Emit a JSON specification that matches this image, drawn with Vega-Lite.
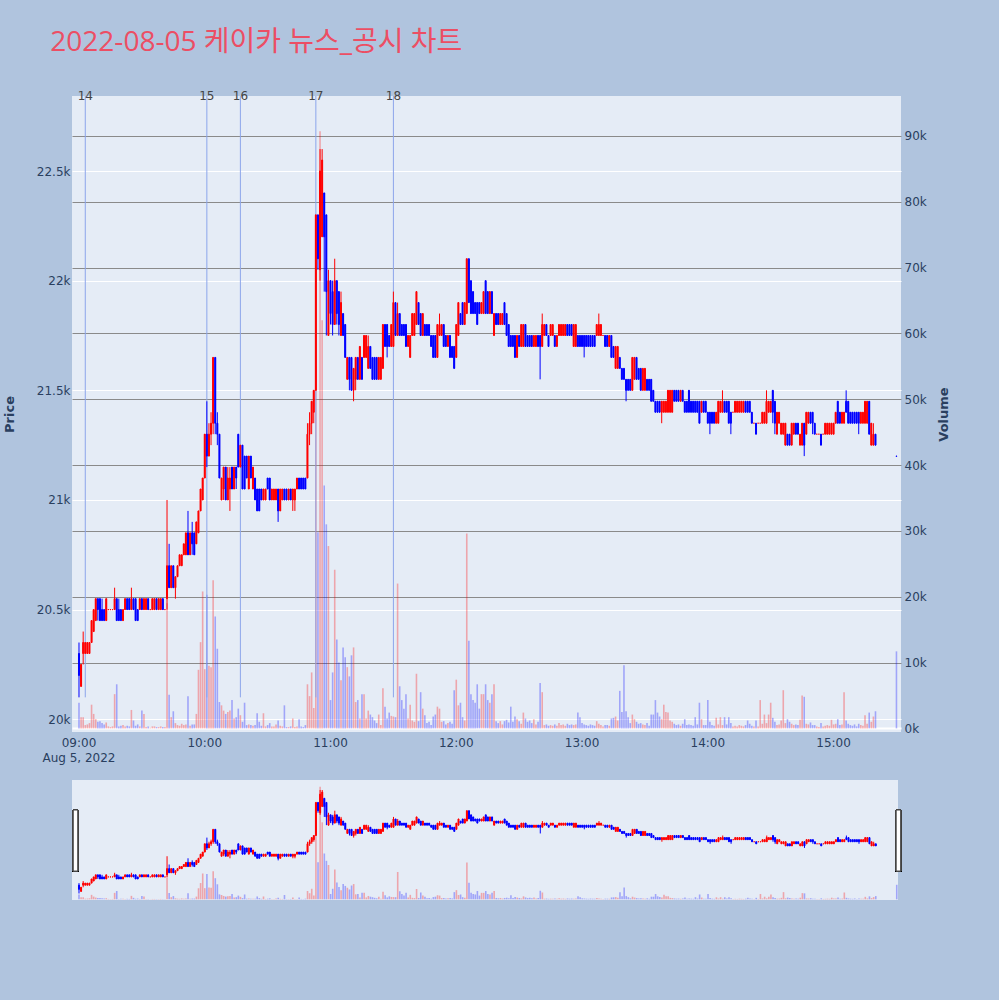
{
"$schema": "https://vega.github.io/schema/vega-lite/v6.json",
"background": "#B0C4DE",
"padding": {"left": 3, "top": 29, "right": 48, "bottom": 100},
"title": {"text": "2022-08-05 케이카 뉴스_공시 차트", "anchor": "start", "frame": "bounds", "font": "Open Sans, Noto Sans CJK KR", "fontSize": 28, "fontWeight": "normal", "color": "#EC4E64", "offset": 33, "dx": 47},
"config": {
"view": {"fill": "#E5ECF6", "stroke": null},
"axis": {"labelFont": "DejaVu Sans", "labelFontSize": 12, "labelColor": "#2a3f5f", "titleFont": "DejaVu Sans", "titleFontSize": 13, "titleFontWeight": "bold", "titleColor": "#2a3f5f", "domain": false, "ticks": false}
},
"spacing": 16,
"datasets": {
"news": [
{"n": "14", "t": "2022-08-05T09:03"},
{"n": "15", "t": "2022-08-05T10:01"},
{"n": "16", "t": "2022-08-05T10:17"},
{"n": "17", "t": "2022-08-05T10:53"},
{"n": "18", "t": "2022-08-05T11:30"}
],
"datelabel": [
{"t": "2022-08-05T09:00", "label": "Aug 5, 2022"}
],
"hours": [
{"t": "2022-08-05T09:00", "label": "09:00"},
{"t": "2022-08-05T10:00", "label": "10:00"},
{"t": "2022-08-05T11:00", "label": "11:00"},
{"t": "2022-08-05T12:00", "label": "12:00"},
{"t": "2022-08-05T13:00", "label": "13:00"},
{"t": "2022-08-05T14:00", "label": "14:00"},
{"t": "2022-08-05T15:00", "label": "15:00"}
],
"d": [
{"t":"2022-08-05T09:00","o":20300,"h":20350,"l":20100,"c":20200,"v":3900},
{"t":"2022-08-05T09:01","o":20150,"h":20250,"l":20150,"c":20250,"v":1700},
{"t":"2022-08-05T09:02","o":20300,"h":20400,"l":20250,"c":20350,"v":1700},
{"t":"2022-08-05T09:03","o":20300,"h":20350,"l":20300,"c":20350,"v":500},
{"t":"2022-08-05T09:04","o":20300,"h":20350,"l":20300,"c":20350,"v":600},
{"t":"2022-08-05T09:05","o":20300,"h":20350,"l":20300,"c":20350,"v":800},
{"t":"2022-08-05T09:06","o":20350,"h":20450,"l":20350,"c":20450,"v":3600},
{"t":"2022-08-05T09:07","o":20400,"h":20500,"l":20400,"c":20500,"v":2200},
{"t":"2022-08-05T09:08","o":20450,"h":20550,"l":20450,"c":20550,"v":1400},
{"t":"2022-08-05T09:09","o":20550,"h":20550,"l":20450,"c":20500,"v":1000},
{"t":"2022-08-05T09:10","o":20550,"h":20550,"l":20450,"c":20450,"v":1100},
{"t":"2022-08-05T09:11","o":20500,"h":20550,"l":20450,"c":20450,"v":800},
{"t":"2022-08-05T09:12","o":20500,"h":20500,"l":20450,"c":20450,"v":600},
{"t":"2022-08-05T09:13","o":20450,"h":20550,"l":20450,"c":20550,"v":900},
{"t":"2022-08-05T09:14","o":20500,"h":20500,"l":20500,"c":20500,"v":300},
{"t":"2022-08-05T09:15","o":20500,"h":20500,"l":20500,"c":20500,"v":200},
{"t":"2022-08-05T09:16","o":20500,"h":20500,"l":20500,"c":20500,"v":300},
{"t":"2022-08-05T09:17","o":20500,"h":20600,"l":20500,"c":20550,"v":5200},
{"t":"2022-08-05T09:18","o":20550,"h":20550,"l":20450,"c":20450,"v":6700},
{"t":"2022-08-05T09:19","o":20500,"h":20550,"l":20450,"c":20450,"v":300},
{"t":"2022-08-05T09:20","o":20500,"h":20500,"l":20450,"c":20450,"v":400},
{"t":"2022-08-05T09:21","o":20450,"h":20500,"l":20450,"c":20500,"v":500},
{"t":"2022-08-05T09:22","o":20500,"h":20550,"l":20500,"c":20550,"v":300},
{"t":"2022-08-05T09:23","o":20550,"h":20550,"l":20500,"c":20500,"v":400},
{"t":"2022-08-05T09:24","o":20550,"h":20550,"l":20500,"c":20500,"v":300},
{"t":"2022-08-05T09:25","o":20500,"h":20600,"l":20500,"c":20550,"v":2800},
{"t":"2022-08-05T09:26","o":20550,"h":20550,"l":20500,"c":20500,"v":1200},
{"t":"2022-08-05T09:27","o":20550,"h":20550,"l":20450,"c":20450,"v":400},
{"t":"2022-08-05T09:28","o":20500,"h":20500,"l":20450,"c":20450,"v":600},
{"t":"2022-08-05T09:29","o":20500,"h":20550,"l":20500,"c":20550,"v":300},
{"t":"2022-08-05T09:30","o":20550,"h":20550,"l":20500,"c":20500,"v":2700},
{"t":"2022-08-05T09:31","o":20500,"h":20550,"l":20500,"c":20550,"v":2200},
{"t":"2022-08-05T09:32","o":20500,"h":20550,"l":20500,"c":20550,"v":200},
{"t":"2022-08-05T09:33","o":20550,"h":20550,"l":20500,"c":20500,"v":300},
{"t":"2022-08-05T09:34","o":20500,"h":20500,"l":20500,"c":20500,"v":100},
{"t":"2022-08-05T09:35","o":20500,"h":20550,"l":20500,"c":20550,"v":300},
{"t":"2022-08-05T09:36","o":20500,"h":20550,"l":20500,"c":20550,"v":300},
{"t":"2022-08-05T09:37","o":20550,"h":20550,"l":20500,"c":20500,"v":200},
{"t":"2022-08-05T09:38","o":20500,"h":20550,"l":20500,"c":20550,"v":200},
{"t":"2022-08-05T09:39","o":20500,"h":20550,"l":20500,"c":20550,"v":300},
{"t":"2022-08-05T09:40","o":20550,"h":20550,"l":20500,"c":20500,"v":200},
{"t":"2022-08-05T09:41","o":20500,"h":20500,"l":20500,"c":20500,"v":200},
{"t":"2022-08-05T09:42","o":20550,"h":21000,"l":20500,"c":20700,"v":19000},
{"t":"2022-08-05T09:43","o":20700,"h":20800,"l":20600,"c":20600,"v":5100},
{"t":"2022-08-05T09:44","o":20600,"h":20700,"l":20600,"c":20700,"v":1700},
{"t":"2022-08-05T09:45","o":20700,"h":20700,"l":20600,"c":20600,"v":2600},
{"t":"2022-08-05T09:46","o":20600,"h":20650,"l":20550,"c":20650,"v":800},
{"t":"2022-08-05T09:47","o":20650,"h":20700,"l":20650,"c":20700,"v":500},
{"t":"2022-08-05T09:48","o":20700,"h":20750,"l":20700,"c":20750,"v":400},
{"t":"2022-08-05T09:49","o":20700,"h":20750,"l":20700,"c":20750,"v":700},
{"t":"2022-08-05T09:50","o":20750,"h":20800,"l":20750,"c":20800,"v":500},
{"t":"2022-08-05T09:51","o":20750,"h":20850,"l":20750,"c":20850,"v":600},
{"t":"2022-08-05T09:52","o":20850,"h":20950,"l":20750,"c":20750,"v":4900},
{"t":"2022-08-05T09:53","o":20750,"h":20850,"l":20750,"c":20850,"v":400},
{"t":"2022-08-05T09:54","o":20850,"h":20900,"l":20750,"c":20800,"v":600},
{"t":"2022-08-05T09:55","o":20850,"h":20850,"l":20750,"c":20750,"v":600},
{"t":"2022-08-05T09:56","o":20800,"h":20900,"l":20800,"c":20900,"v":2200},
{"t":"2022-08-05T09:57","o":20850,"h":20950,"l":20850,"c":20950,"v":8900},
{"t":"2022-08-05T09:58","o":20950,"h":21050,"l":20950,"c":21050,"v":13100},
{"t":"2022-08-05T09:59","o":21000,"h":21100,"l":21000,"c":21100,"v":20800},
{"t":"2022-08-05T10:00","o":21100,"h":21300,"l":21100,"c":21300,"v":9000},
{"t":"2022-08-05T10:01","o":21300,"h":21450,"l":21150,"c":21200,"v":20300},
{"t":"2022-08-05T10:02","o":21200,"h":21350,"l":21200,"c":21300,"v":9500},
{"t":"2022-08-05T10:03","o":21300,"h":21400,"l":21250,"c":21350,"v":9300},
{"t":"2022-08-05T10:04","o":21350,"h":21650,"l":21300,"c":21650,"v":22500},
{"t":"2022-08-05T10:05","o":21650,"h":21650,"l":21300,"c":21350,"v":17000},
{"t":"2022-08-05T10:06","o":21350,"h":21400,"l":21250,"c":21300,"v":12100},
{"t":"2022-08-05T10:07","o":21300,"h":21300,"l":21100,"c":21100,"v":4000},
{"t":"2022-08-05T10:08","o":21000,"h":21100,"l":21000,"c":21100,"v":3500},
{"t":"2022-08-05T10:09","o":21050,"h":21150,"l":21000,"c":21150,"v":2700},
{"t":"2022-08-05T10:10","o":21150,"h":21150,"l":21000,"c":21000,"v":2200},
{"t":"2022-08-05T10:11","o":21000,"h":21150,"l":21000,"c":21100,"v":2500},
{"t":"2022-08-05T10:12","o":21050,"h":21150,"l":20950,"c":21100,"v":2700},
{"t":"2022-08-05T10:13","o":21150,"h":21150,"l":21050,"c":21050,"v":4300},
{"t":"2022-08-05T10:14","o":21050,"h":21150,"l":21050,"c":21150,"v":1500},
{"t":"2022-08-05T10:15","o":21150,"h":21150,"l":21050,"c":21100,"v":1700},
{"t":"2022-08-05T10:16","o":21300,"h":21300,"l":21150,"c":21150,"v":3000},
{"t":"2022-08-05T10:17","o":21150,"h":21250,"l":21150,"c":21250,"v":2000},
{"t":"2022-08-05T10:18","o":21250,"h":21250,"l":21050,"c":21050,"v":1000},
{"t":"2022-08-05T10:19","o":21200,"h":21200,"l":21050,"c":21050,"v":3900},
{"t":"2022-08-05T10:20","o":21200,"h":21200,"l":21100,"c":21100,"v":500},
{"t":"2022-08-05T10:21","o":21050,"h":21200,"l":21050,"c":21200,"v":600},
{"t":"2022-08-05T10:22","o":21200,"h":21200,"l":21100,"c":21100,"v":500},
{"t":"2022-08-05T10:23","o":21050,"h":21150,"l":21050,"c":21150,"v":400},
{"t":"2022-08-05T10:24","o":21100,"h":21100,"l":21000,"c":21000,"v":500},
{"t":"2022-08-05T10:25","o":21050,"h":21050,"l":20950,"c":20950,"v":2300},
{"t":"2022-08-05T10:26","o":21050,"h":21050,"l":20950,"c":20950,"v":1000},
{"t":"2022-08-05T10:27","o":21050,"h":21050,"l":21000,"c":21000,"v":400},
{"t":"2022-08-05T10:28","o":21000,"h":21050,"l":21000,"c":21050,"v":2300},
{"t":"2022-08-05T10:29","o":21000,"h":21050,"l":21000,"c":21050,"v":300},
{"t":"2022-08-05T10:30","o":21100,"h":21100,"l":21050,"c":21050,"v":500},
{"t":"2022-08-05T10:31","o":21100,"h":21100,"l":21000,"c":21000,"v":800},
{"t":"2022-08-05T10:32","o":21000,"h":21050,"l":21000,"c":21050,"v":300},
{"t":"2022-08-05T10:33","o":21000,"h":21050,"l":21000,"c":21050,"v":300},
{"t":"2022-08-05T10:34","o":21000,"h":21050,"l":21000,"c":21050,"v":600},
{"t":"2022-08-05T10:35","o":21050,"h":21050,"l":20900,"c":20950,"v":1200},
{"t":"2022-08-05T10:36","o":20950,"h":21050,"l":20950,"c":21050,"v":400},
{"t":"2022-08-05T10:37","o":21000,"h":21050,"l":21000,"c":21050,"v":300},
{"t":"2022-08-05T10:38","o":21050,"h":21050,"l":21000,"c":21000,"v":3500},
{"t":"2022-08-05T10:39","o":21050,"h":21050,"l":21000,"c":21000,"v":200},
{"t":"2022-08-05T10:40","o":21000,"h":21050,"l":21000,"c":21050,"v":200},
{"t":"2022-08-05T10:41","o":21050,"h":21050,"l":21000,"c":21000,"v":300},
{"t":"2022-08-05T10:42","o":21000,"h":21050,"l":20950,"c":21050,"v":1500},
{"t":"2022-08-05T10:43","o":21000,"h":21050,"l":20950,"c":21050,"v":200},
{"t":"2022-08-05T10:44","o":21050,"h":21100,"l":21050,"c":21100,"v":300},
{"t":"2022-08-05T10:45","o":21100,"h":21100,"l":21050,"c":21050,"v":1400},
{"t":"2022-08-05T10:46","o":21100,"h":21100,"l":21050,"c":21050,"v":300},
{"t":"2022-08-05T10:47","o":21100,"h":21100,"l":21050,"c":21050,"v":200},
{"t":"2022-08-05T10:48","o":21100,"h":21100,"l":21050,"c":21050,"v":500},
{"t":"2022-08-05T10:49","o":21100,"h":21350,"l":21100,"c":21300,"v":6700},
{"t":"2022-08-05T10:50","o":21300,"h":21400,"l":21250,"c":21350,"v":4900},
{"t":"2022-08-05T10:51","o":21350,"h":21450,"l":21300,"c":21450,"v":8500},
{"t":"2022-08-05T10:52","o":21400,"h":21500,"l":21350,"c":21500,"v":3100},
{"t":"2022-08-05T10:53","o":21500,"h":22300,"l":21500,"c":22300,"v":55000},
{"t":"2022-08-05T10:54","o":22300,"h":22300,"l":22050,"c":22100,"v":29800},
{"t":"2022-08-05T10:55","o":22050,"h":22600,"l":22000,"c":22500,"v":90700},
{"t":"2022-08-05T10:56","o":22200,"h":22600,"l":22200,"c":22550,"v":62000},
{"t":"2022-08-05T10:57","o":22400,"h":22400,"l":21950,"c":22200,"v":36900},
{"t":"2022-08-05T10:58","o":22300,"h":22300,"l":21750,"c":21950,"v":31000},
{"t":"2022-08-05T10:59","o":21750,"h":22050,"l":21750,"c":22000,"v":27700},
{"t":"2022-08-05T11:00","o":22000,"h":22000,"l":21800,"c":21850,"v":4300},
{"t":"2022-08-05T11:01","o":21950,"h":22000,"l":21750,"c":21800,"v":8500},
{"t":"2022-08-05T11:02","o":21800,"h":22100,"l":21800,"c":22000,"v":24100},
{"t":"2022-08-05T11:03","o":22000,"h":22000,"l":21800,"c":21850,"v":13500},
{"t":"2022-08-05T11:04","o":21950,"h":21950,"l":21750,"c":21800,"v":10000},
{"t":"2022-08-05T11:05","o":21750,"h":21950,"l":21750,"c":21900,"v":7300},
{"t":"2022-08-05T11:06","o":21850,"h":21850,"l":21750,"c":21750,"v":12300},
{"t":"2022-08-05T11:07","o":21800,"h":21800,"l":21650,"c":21650,"v":10800},
{"t":"2022-08-05T11:08","o":21550,"h":21650,"l":21550,"c":21650,"v":9300},
{"t":"2022-08-05T11:09","o":21650,"h":21650,"l":21500,"c":21550,"v":7900},
{"t":"2022-08-05T11:10","o":21650,"h":21650,"l":21500,"c":21500,"v":11100},
{"t":"2022-08-05T11:11","o":21500,"h":21600,"l":21450,"c":21600,"v":12300},
{"t":"2022-08-05T11:12","o":21550,"h":21650,"l":21500,"c":21650,"v":4000},
{"t":"2022-08-05T11:13","o":21650,"h":21650,"l":21550,"c":21550,"v":4300},
{"t":"2022-08-05T11:14","o":21550,"h":21700,"l":21550,"c":21700,"v":1500},
{"t":"2022-08-05T11:15","o":21650,"h":21650,"l":21550,"c":21550,"v":5200},
{"t":"2022-08-05T11:16","o":21650,"h":21750,"l":21650,"c":21750,"v":5200},
{"t":"2022-08-05T11:17","o":21650,"h":21750,"l":21650,"c":21750,"v":1500},
{"t":"2022-08-05T11:18","o":21600,"h":21750,"l":21600,"c":21700,"v":2700},
{"t":"2022-08-05T11:19","o":21700,"h":21700,"l":21600,"c":21600,"v":2100},
{"t":"2022-08-05T11:20","o":21650,"h":21650,"l":21550,"c":21550,"v":1700},
{"t":"2022-08-05T11:21","o":21650,"h":21650,"l":21550,"c":21550,"v":1200},
{"t":"2022-08-05T11:22","o":21650,"h":21650,"l":21550,"c":21550,"v":800},
{"t":"2022-08-05T11:23","o":21550,"h":21650,"l":21550,"c":21650,"v":2100},
{"t":"2022-08-05T11:24","o":21550,"h":21650,"l":21550,"c":21650,"v":500},
{"t":"2022-08-05T11:25","o":21600,"h":21800,"l":21600,"c":21800,"v":6100},
{"t":"2022-08-05T11:26","o":21800,"h":21800,"l":21700,"c":21700,"v":3300},
{"t":"2022-08-05T11:27","o":21800,"h":21800,"l":21650,"c":21700,"v":1500},
{"t":"2022-08-05T11:28","o":21750,"h":21750,"l":21700,"c":21700,"v":2400},
{"t":"2022-08-05T11:29","o":21700,"h":21800,"l":21700,"c":21800,"v":1900},
{"t":"2022-08-05T11:30","o":21700,"h":21950,"l":21700,"c":21900,"v":1800},
{"t":"2022-08-05T11:31","o":21900,"h":21900,"l":21750,"c":21750,"v":1700},
{"t":"2022-08-05T11:32","o":21750,"h":21900,"l":21750,"c":21850,"v":22000},
{"t":"2022-08-05T11:33","o":21850,"h":21850,"l":21750,"c":21750,"v":6400},
{"t":"2022-08-05T11:34","o":21800,"h":21800,"l":21750,"c":21750,"v":4300},
{"t":"2022-08-05T11:35","o":21800,"h":21800,"l":21750,"c":21750,"v":3000},
{"t":"2022-08-05T11:36","o":21800,"h":21800,"l":21700,"c":21700,"v":5200},
{"t":"2022-08-05T11:37","o":21700,"h":21750,"l":21700,"c":21750,"v":1500},
{"t":"2022-08-05T11:38","o":21650,"h":21750,"l":21650,"c":21750,"v":3600},
{"t":"2022-08-05T11:39","o":21750,"h":21850,"l":21750,"c":21850,"v":1200},
{"t":"2022-08-05T11:40","o":21750,"h":21850,"l":21750,"c":21850,"v":1000},
{"t":"2022-08-05T11:41","o":21800,"h":21950,"l":21800,"c":21950,"v":8300},
{"t":"2022-08-05T11:42","o":21900,"h":21900,"l":21800,"c":21800,"v":1100},
{"t":"2022-08-05T11:43","o":21850,"h":21850,"l":21750,"c":21750,"v":5500},
{"t":"2022-08-05T11:44","o":21750,"h":21850,"l":21750,"c":21850,"v":3000},
{"t":"2022-08-05T11:45","o":21800,"h":21800,"l":21750,"c":21750,"v":2000},
{"t":"2022-08-05T11:46","o":21800,"h":21800,"l":21750,"c":21750,"v":800},
{"t":"2022-08-05T11:47","o":21800,"h":21800,"l":21750,"c":21750,"v":1000},
{"t":"2022-08-05T11:48","o":21750,"h":21750,"l":21700,"c":21700,"v":500},
{"t":"2022-08-05T11:49","o":21750,"h":21750,"l":21650,"c":21650,"v":1800},
{"t":"2022-08-05T11:50","o":21750,"h":21750,"l":21650,"c":21650,"v":2100},
{"t":"2022-08-05T11:51","o":21650,"h":21800,"l":21650,"c":21800,"v":3300},
{"t":"2022-08-05T11:52","o":21750,"h":21850,"l":21750,"c":21800,"v":3000},
{"t":"2022-08-05T11:53","o":21750,"h":21800,"l":21750,"c":21800,"v":1000},
{"t":"2022-08-05T11:54","o":21800,"h":21800,"l":21700,"c":21700,"v":1100},
{"t":"2022-08-05T11:55","o":21750,"h":21750,"l":21700,"c":21700,"v":600},
{"t":"2022-08-05T11:56","o":21700,"h":21750,"l":21700,"c":21750,"v":800},
{"t":"2022-08-05T11:57","o":21750,"h":21750,"l":21650,"c":21650,"v":1000},
{"t":"2022-08-05T11:58","o":21700,"h":21700,"l":21650,"c":21650,"v":700},
{"t":"2022-08-05T11:59","o":21700,"h":21700,"l":21600,"c":21600,"v":5800},
{"t":"2022-08-05T12:00","o":21650,"h":21800,"l":21650,"c":21800,"v":7400},
{"t":"2022-08-05T12:01","o":21750,"h":21900,"l":21750,"c":21900,"v":3500},
{"t":"2022-08-05T12:02","o":21850,"h":21850,"l":21800,"c":21800,"v":3900},
{"t":"2022-08-05T12:03","o":21900,"h":21900,"l":21800,"c":21800,"v":1700},
{"t":"2022-08-05T12:04","o":21800,"h":21900,"l":21800,"c":21900,"v":1200},
{"t":"2022-08-05T12:05","o":21850,"h":22100,"l":21850,"c":22100,"v":29600},
{"t":"2022-08-05T12:06","o":22100,"h":22100,"l":21900,"c":21900,"v":13300},
{"t":"2022-08-05T12:07","o":22000,"h":22000,"l":21850,"c":21850,"v":5200},
{"t":"2022-08-05T12:08","o":21950,"h":21950,"l":21850,"c":21850,"v":4300},
{"t":"2022-08-05T12:09","o":21900,"h":21900,"l":21850,"c":21850,"v":3900},
{"t":"2022-08-05T12:10","o":21900,"h":21900,"l":21800,"c":21800,"v":6700},
{"t":"2022-08-05T12:11","o":21900,"h":21900,"l":21850,"c":21850,"v":3000},
{"t":"2022-08-05T12:12","o":21850,"h":21900,"l":21850,"c":21900,"v":5200},
{"t":"2022-08-05T12:13","o":21850,"h":21950,"l":21850,"c":21950,"v":5200},
{"t":"2022-08-05T12:14","o":22000,"h":22000,"l":21850,"c":21850,"v":6700},
{"t":"2022-08-05T12:15","o":21950,"h":21950,"l":21850,"c":21850,"v":4300},
{"t":"2022-08-05T12:16","o":21850,"h":21950,"l":21850,"c":21950,"v":3900},
{"t":"2022-08-05T12:17","o":21950,"h":21950,"l":21850,"c":21850,"v":5200},
{"t":"2022-08-05T12:18","o":21750,"h":21850,"l":21750,"c":21850,"v":6700},
{"t":"2022-08-05T12:19","o":21850,"h":21850,"l":21800,"c":21800,"v":1100},
{"t":"2022-08-05T12:20","o":21850,"h":21850,"l":21800,"c":21800,"v":800},
{"t":"2022-08-05T12:21","o":21800,"h":21850,"l":21800,"c":21850,"v":1100},
{"t":"2022-08-05T12:22","o":21800,"h":21850,"l":21800,"c":21850,"v":600},
{"t":"2022-08-05T12:23","o":21900,"h":21900,"l":21800,"c":21800,"v":1100},
{"t":"2022-08-05T12:24","o":21850,"h":21850,"l":21750,"c":21750,"v":1300},
{"t":"2022-08-05T12:25","o":21800,"h":21800,"l":21700,"c":21700,"v":900},
{"t":"2022-08-05T12:26","o":21750,"h":21750,"l":21700,"c":21700,"v":3300},
{"t":"2022-08-05T12:27","o":21750,"h":21750,"l":21700,"c":21700,"v":1000},
{"t":"2022-08-05T12:28","o":21750,"h":21750,"l":21650,"c":21650,"v":1800},
{"t":"2022-08-05T12:29","o":21650,"h":21750,"l":21650,"c":21750,"v":1400},
{"t":"2022-08-05T12:30","o":21750,"h":21750,"l":21700,"c":21700,"v":1100},
{"t":"2022-08-05T12:31","o":21700,"h":21800,"l":21700,"c":21800,"v":700},
{"t":"2022-08-05T12:32","o":21700,"h":21800,"l":21700,"c":21800,"v":2400},
{"t":"2022-08-05T12:33","o":21800,"h":21800,"l":21700,"c":21700,"v":1500},
{"t":"2022-08-05T12:34","o":21750,"h":21750,"l":21700,"c":21700,"v":1000},
{"t":"2022-08-05T12:35","o":21750,"h":21750,"l":21700,"c":21700,"v":1200},
{"t":"2022-08-05T12:36","o":21750,"h":21750,"l":21700,"c":21700,"v":800},
{"t":"2022-08-05T12:37","o":21700,"h":21750,"l":21700,"c":21750,"v":1400},
{"t":"2022-08-05T12:38","o":21700,"h":21750,"l":21700,"c":21750,"v":600},
{"t":"2022-08-05T12:39","o":21750,"h":21750,"l":21700,"c":21700,"v":1000},
{"t":"2022-08-05T12:40","o":21750,"h":21750,"l":21550,"c":21700,"v":6900},
{"t":"2022-08-05T12:41","o":21700,"h":21850,"l":21700,"c":21800,"v":5500},
{"t":"2022-08-05T12:42","o":21750,"h":21800,"l":21750,"c":21800,"v":500},
{"t":"2022-08-05T12:43","o":21800,"h":21800,"l":21750,"c":21750,"v":600},
{"t":"2022-08-05T12:44","o":21750,"h":21750,"l":21700,"c":21700,"v":400},
{"t":"2022-08-05T12:45","o":21750,"h":21800,"l":21750,"c":21800,"v":500},
{"t":"2022-08-05T12:46","o":21750,"h":21800,"l":21750,"c":21800,"v":400},
{"t":"2022-08-05T12:47","o":21750,"h":21750,"l":21700,"c":21700,"v":600},
{"t":"2022-08-05T12:48","o":21700,"h":21750,"l":21700,"c":21750,"v":400},
{"t":"2022-08-05T12:49","o":21750,"h":21800,"l":21750,"c":21800,"v":800},
{"t":"2022-08-05T12:50","o":21750,"h":21800,"l":21750,"c":21800,"v":500},
{"t":"2022-08-05T12:51","o":21750,"h":21800,"l":21750,"c":21800,"v":600},
{"t":"2022-08-05T12:52","o":21750,"h":21800,"l":21750,"c":21800,"v":400},
{"t":"2022-08-05T12:53","o":21800,"h":21800,"l":21750,"c":21750,"v":700},
{"t":"2022-08-05T12:54","o":21800,"h":21800,"l":21750,"c":21750,"v":500},
{"t":"2022-08-05T12:55","o":21800,"h":21800,"l":21750,"c":21750,"v":600},
{"t":"2022-08-05T12:56","o":21700,"h":21800,"l":21700,"c":21800,"v":500},
{"t":"2022-08-05T12:57","o":21700,"h":21800,"l":21700,"c":21800,"v":600},
{"t":"2022-08-05T12:58","o":21750,"h":21750,"l":21700,"c":21700,"v":2400},
{"t":"2022-08-05T12:59","o":21750,"h":21750,"l":21700,"c":21700,"v":1700},
{"t":"2022-08-05T13:00","o":21750,"h":21750,"l":21700,"c":21700,"v":800},
{"t":"2022-08-05T13:01","o":21750,"h":21750,"l":21650,"c":21700,"v":600},
{"t":"2022-08-05T13:02","o":21750,"h":21750,"l":21700,"c":21700,"v":500},
{"t":"2022-08-05T13:03","o":21750,"h":21750,"l":21700,"c":21700,"v":400},
{"t":"2022-08-05T13:04","o":21750,"h":21750,"l":21700,"c":21700,"v":600},
{"t":"2022-08-05T13:05","o":21750,"h":21750,"l":21700,"c":21700,"v":500},
{"t":"2022-08-05T13:06","o":21750,"h":21750,"l":21700,"c":21700,"v":400},
{"t":"2022-08-05T13:07","o":21750,"h":21800,"l":21750,"c":21800,"v":1100},
{"t":"2022-08-05T13:08","o":21750,"h":21850,"l":21750,"c":21800,"v":700},
{"t":"2022-08-05T13:09","o":21750,"h":21800,"l":21750,"c":21800,"v":500},
{"t":"2022-08-05T13:10","o":21750,"h":21750,"l":21750,"c":21750,"v":300},
{"t":"2022-08-05T13:11","o":21750,"h":21750,"l":21700,"c":21700,"v":500},
{"t":"2022-08-05T13:12","o":21750,"h":21750,"l":21700,"c":21700,"v":500},
{"t":"2022-08-05T13:13","o":21700,"h":21750,"l":21700,"c":21750,"v":400},
{"t":"2022-08-05T13:14","o":21750,"h":21750,"l":21650,"c":21650,"v":1500},
{"t":"2022-08-05T13:15","o":21700,"h":21700,"l":21650,"c":21650,"v":1600},
{"t":"2022-08-05T13:16","o":21600,"h":21700,"l":21600,"c":21700,"v":1800},
{"t":"2022-08-05T13:17","o":21600,"h":21700,"l":21600,"c":21700,"v":1200},
{"t":"2022-08-05T13:18","o":21650,"h":21650,"l":21600,"c":21600,"v":5700},
{"t":"2022-08-05T13:19","o":21600,"h":21600,"l":21550,"c":21550,"v":2500},
{"t":"2022-08-05T13:20","o":21600,"h":21600,"l":21550,"c":21550,"v":9600},
{"t":"2022-08-05T13:21","o":21550,"h":21550,"l":21450,"c":21500,"v":2600},
{"t":"2022-08-05T13:22","o":21550,"h":21550,"l":21500,"c":21500,"v":1700},
{"t":"2022-08-05T13:23","o":21550,"h":21550,"l":21500,"c":21500,"v":800},
{"t":"2022-08-05T13:24","o":21500,"h":21650,"l":21500,"c":21650,"v":2100},
{"t":"2022-08-05T13:25","o":21550,"h":21650,"l":21550,"c":21650,"v":1400},
{"t":"2022-08-05T13:26","o":21650,"h":21650,"l":21550,"c":21550,"v":1000},
{"t":"2022-08-05T13:27","o":21600,"h":21600,"l":21550,"c":21550,"v":700},
{"t":"2022-08-05T13:28","o":21600,"h":21600,"l":21500,"c":21500,"v":800},
{"t":"2022-08-05T13:29","o":21500,"h":21600,"l":21500,"c":21600,"v":600},
{"t":"2022-08-05T13:30","o":21500,"h":21600,"l":21500,"c":21600,"v":500},
{"t":"2022-08-05T13:31","o":21550,"h":21550,"l":21500,"c":21500,"v":800},
{"t":"2022-08-05T13:32","o":21550,"h":21550,"l":21500,"c":21500,"v":400},
{"t":"2022-08-05T13:33","o":21550,"h":21550,"l":21450,"c":21450,"v":2100},
{"t":"2022-08-05T13:34","o":21500,"h":21500,"l":21450,"c":21450,"v":2100},
{"t":"2022-08-05T13:35","o":21450,"h":21450,"l":21400,"c":21400,"v":4300},
{"t":"2022-08-05T13:36","o":21450,"h":21450,"l":21400,"c":21400,"v":2400},
{"t":"2022-08-05T13:37","o":21450,"h":21450,"l":21400,"c":21400,"v":1800},
{"t":"2022-08-05T13:38","o":21400,"h":21450,"l":21350,"c":21450,"v":1400},
{"t":"2022-08-05T13:39","o":21400,"h":21450,"l":21400,"c":21450,"v":3600},
{"t":"2022-08-05T13:40","o":21400,"h":21450,"l":21400,"c":21450,"v":2500},
{"t":"2022-08-05T13:41","o":21400,"h":21500,"l":21400,"c":21500,"v":2400},
{"t":"2022-08-05T13:42","o":21400,"h":21500,"l":21400,"c":21500,"v":1200},
{"t":"2022-08-05T13:43","o":21400,"h":21500,"l":21400,"c":21500,"v":1000},
{"t":"2022-08-05T13:44","o":21500,"h":21500,"l":21450,"c":21450,"v":700},
{"t":"2022-08-05T13:45","o":21500,"h":21500,"l":21450,"c":21450,"v":500},
{"t":"2022-08-05T13:46","o":21500,"h":21500,"l":21450,"c":21450,"v":600},
{"t":"2022-08-05T13:47","o":21450,"h":21500,"l":21450,"c":21500,"v":400},
{"t":"2022-08-05T13:48","o":21500,"h":21500,"l":21450,"c":21450,"v":700},
{"t":"2022-08-05T13:49","o":21450,"h":21450,"l":21400,"c":21400,"v":1400},
{"t":"2022-08-05T13:50","o":21450,"h":21450,"l":21400,"c":21400,"v":500},
{"t":"2022-08-05T13:51","o":21500,"h":21500,"l":21400,"c":21400,"v":600},
{"t":"2022-08-05T13:52","o":21450,"h":21450,"l":21400,"c":21400,"v":500},
{"t":"2022-08-05T13:53","o":21450,"h":21450,"l":21400,"c":21400,"v":400},
{"t":"2022-08-05T13:54","o":21450,"h":21450,"l":21400,"c":21400,"v":1700},
{"t":"2022-08-05T13:55","o":21450,"h":21450,"l":21400,"c":21400,"v":600},
{"t":"2022-08-05T13:56","o":21450,"h":21450,"l":21350,"c":21350,"v":3900},
{"t":"2022-08-05T13:57","o":21400,"h":21450,"l":21400,"c":21450,"v":1400},
{"t":"2022-08-05T13:58","o":21450,"h":21450,"l":21400,"c":21400,"v":500},
{"t":"2022-08-05T13:59","o":21450,"h":21450,"l":21400,"c":21400,"v":500},
{"t":"2022-08-05T14:00","o":21400,"h":21400,"l":21350,"c":21350,"v":4300},
{"t":"2022-08-05T14:01","o":21400,"h":21400,"l":21300,"c":21350,"v":1000},
{"t":"2022-08-05T14:02","o":21400,"h":21400,"l":21350,"c":21350,"v":500},
{"t":"2022-08-05T14:03","o":21400,"h":21400,"l":21350,"c":21350,"v":400},
{"t":"2022-08-05T14:04","o":21350,"h":21400,"l":21350,"c":21400,"v":1600},
{"t":"2022-08-05T14:05","o":21350,"h":21450,"l":21350,"c":21450,"v":600},
{"t":"2022-08-05T14:06","o":21400,"h":21450,"l":21400,"c":21450,"v":1700},
{"t":"2022-08-05T14:07","o":21400,"h":21500,"l":21400,"c":21450,"v":500},
{"t":"2022-08-05T14:08","o":21450,"h":21450,"l":21400,"c":21400,"v":1700},
{"t":"2022-08-05T14:09","o":21450,"h":21450,"l":21400,"c":21400,"v":600},
{"t":"2022-08-05T14:10","o":21450,"h":21450,"l":21350,"c":21350,"v":1700},
{"t":"2022-08-05T14:11","o":21400,"h":21400,"l":21300,"c":21350,"v":800},
{"t":"2022-08-05T14:12","o":21400,"h":21400,"l":21400,"c":21400,"v":300},
{"t":"2022-08-05T14:13","o":21400,"h":21450,"l":21400,"c":21450,"v":400},
{"t":"2022-08-05T14:14","o":21400,"h":21450,"l":21400,"c":21450,"v":300},
{"t":"2022-08-05T14:15","o":21400,"h":21450,"l":21400,"c":21450,"v":500},
{"t":"2022-08-05T14:16","o":21400,"h":21450,"l":21400,"c":21450,"v":400},
{"t":"2022-08-05T14:17","o":21400,"h":21450,"l":21400,"c":21450,"v":300},
{"t":"2022-08-05T14:18","o":21450,"h":21450,"l":21400,"c":21400,"v":500},
{"t":"2022-08-05T14:19","o":21450,"h":21450,"l":21400,"c":21400,"v":1200},
{"t":"2022-08-05T14:20","o":21450,"h":21450,"l":21400,"c":21400,"v":700},
{"t":"2022-08-05T14:21","o":21400,"h":21400,"l":21350,"c":21350,"v":400},
{"t":"2022-08-05T14:22","o":21350,"h":21350,"l":21350,"c":21350,"v":300},
{"t":"2022-08-05T14:23","o":21350,"h":21350,"l":21300,"c":21300,"v":1200},
{"t":"2022-08-05T14:24","o":21350,"h":21350,"l":21350,"c":21350,"v":300},
{"t":"2022-08-05T14:25","o":21350,"h":21350,"l":21350,"c":21350,"v":4300},
{"t":"2022-08-05T14:26","o":21350,"h":21400,"l":21350,"c":21400,"v":700},
{"t":"2022-08-05T14:27","o":21350,"h":21400,"l":21350,"c":21400,"v":2100},
{"t":"2022-08-05T14:28","o":21350,"h":21500,"l":21350,"c":21450,"v":800},
{"t":"2022-08-05T14:29","o":21400,"h":21450,"l":21400,"c":21450,"v":2100},
{"t":"2022-08-05T14:30","o":21400,"h":21450,"l":21400,"c":21450,"v":3900},
{"t":"2022-08-05T14:31","o":21500,"h":21500,"l":21350,"c":21400,"v":1600},
{"t":"2022-08-05T14:32","o":21450,"h":21450,"l":21300,"c":21350,"v":1000},
{"t":"2022-08-05T14:33","o":21300,"h":21400,"l":21300,"c":21400,"v":500},
{"t":"2022-08-05T14:34","o":21350,"h":21400,"l":21350,"c":21400,"v":600},
{"t":"2022-08-05T14:35","o":21300,"h":21350,"l":21300,"c":21350,"v":1200},
{"t":"2022-08-05T14:36","o":21300,"h":21350,"l":21300,"c":21350,"v":5800},
{"t":"2022-08-05T14:37","o":21250,"h":21350,"l":21250,"c":21350,"v":800},
{"t":"2022-08-05T14:38","o":21300,"h":21300,"l":21250,"c":21250,"v":1400},
{"t":"2022-08-05T14:39","o":21300,"h":21300,"l":21250,"c":21250,"v":1000},
{"t":"2022-08-05T14:40","o":21250,"h":21350,"l":21250,"c":21350,"v":700},
{"t":"2022-08-05T14:41","o":21300,"h":21350,"l":21300,"c":21350,"v":500},
{"t":"2022-08-05T14:42","o":21350,"h":21350,"l":21300,"c":21300,"v":600},
{"t":"2022-08-05T14:43","o":21350,"h":21350,"l":21300,"c":21300,"v":500},
{"t":"2022-08-05T14:44","o":21250,"h":21300,"l":21250,"c":21300,"v":1300},
{"t":"2022-08-05T14:45","o":21250,"h":21350,"l":21250,"c":21350,"v":5000},
{"t":"2022-08-05T14:46","o":21350,"h":21350,"l":21200,"c":21250,"v":4800},
{"t":"2022-08-05T14:47","o":21300,"h":21400,"l":21300,"c":21400,"v":700},
{"t":"2022-08-05T14:48","o":21350,"h":21400,"l":21350,"c":21400,"v":600},
{"t":"2022-08-05T14:49","o":21400,"h":21400,"l":21350,"c":21350,"v":900},
{"t":"2022-08-05T14:50","o":21400,"h":21400,"l":21300,"c":21350,"v":500},
{"t":"2022-08-05T14:51","o":21350,"h":21350,"l":21300,"c":21300,"v":500},
{"t":"2022-08-05T14:52","o":21300,"h":21300,"l":21300,"c":21300,"v":300},
{"t":"2022-08-05T14:53","o":21300,"h":21300,"l":21300,"c":21300,"v":200},
{"t":"2022-08-05T14:54","o":21300,"h":21300,"l":21250,"c":21250,"v":800},
{"t":"2022-08-05T14:55","o":21300,"h":21300,"l":21300,"c":21300,"v":300},
{"t":"2022-08-05T14:56","o":21300,"h":21350,"l":21300,"c":21350,"v":400},
{"t":"2022-08-05T14:57","o":21300,"h":21350,"l":21300,"c":21350,"v":500},
{"t":"2022-08-05T14:58","o":21300,"h":21350,"l":21300,"c":21350,"v":400},
{"t":"2022-08-05T14:59","o":21300,"h":21350,"l":21300,"c":21350,"v":1300},
{"t":"2022-08-05T15:00","o":21300,"h":21350,"l":21300,"c":21350,"v":600},
{"t":"2022-08-05T15:01","o":21350,"h":21400,"l":21350,"c":21400,"v":700},
{"t":"2022-08-05T15:02","o":21450,"h":21450,"l":21350,"c":21350,"v":1400},
{"t":"2022-08-05T15:03","o":21400,"h":21400,"l":21350,"c":21350,"v":500},
{"t":"2022-08-05T15:04","o":21350,"h":21400,"l":21350,"c":21400,"v":600},
{"t":"2022-08-05T15:05","o":21350,"h":21400,"l":21350,"c":21400,"v":5500},
{"t":"2022-08-05T15:06","o":21450,"h":21500,"l":21400,"c":21400,"v":1200},
{"t":"2022-08-05T15:07","o":21450,"h":21450,"l":21350,"c":21350,"v":700},
{"t":"2022-08-05T15:08","o":21400,"h":21400,"l":21350,"c":21350,"v":500},
{"t":"2022-08-05T15:09","o":21400,"h":21400,"l":21350,"c":21350,"v":400},
{"t":"2022-08-05T15:10","o":21400,"h":21400,"l":21350,"c":21350,"v":600},
{"t":"2022-08-05T15:11","o":21400,"h":21400,"l":21350,"c":21350,"v":300},
{"t":"2022-08-05T15:12","o":21400,"h":21400,"l":21300,"c":21350,"v":700},
{"t":"2022-08-05T15:13","o":21350,"h":21400,"l":21350,"c":21400,"v":500},
{"t":"2022-08-05T15:14","o":21350,"h":21400,"l":21350,"c":21400,"v":400},
{"t":"2022-08-05T15:15","o":21350,"h":21450,"l":21350,"c":21450,"v":2000},
{"t":"2022-08-05T15:16","o":21350,"h":21450,"l":21350,"c":21450,"v":700},
{"t":"2022-08-05T15:17","o":21450,"h":21450,"l":21300,"c":21300,"v":2400},
{"t":"2022-08-05T15:18","o":21250,"h":21350,"l":21250,"c":21350,"v":1000},
{"t":"2022-08-05T15:19","o":21250,"h":21350,"l":21250,"c":21300,"v":1800},
{"t":"2022-08-05T15:20","o":21300,"h":21300,"l":21250,"c":21250,"v":2600},
{"t":"2022-08-05T15:30","o":21200,"h":21200,"l":21200,"c":21199,"v":11700}
]
},
"vconcat": [
{
"width": 829,
"height": 636,
"data": {"name": "d"},
"layer": [
{
"mark": {"type": "bar", "size": 1.6, "opacity": 0.3},
"encoding": {
"x": {"field": "t", "type": "temporal",
"scale": {"domain": [{"year": 2022, "month": 8, "date": 5, "hours": 8, "minutes": 59, "seconds": 3}, {"year": 2022, "month": 8, "date": 5, "hours": 15, "minutes": 29, "seconds": 47}]},
"axis": {"title": null, "grid": false, "labelPadding": 6, "format": "%H:%M", "tickCount": {"interval": "hour", "step": 1}, "labelOverlap": false}},
"y": {"field": "v", "type": "quantitative",
"scale": {"domain": [-550, 96070], "nice": false, "zero": false},
"axis": {"orient": "right", "title": "Volume", "titleAngle": 270, "titlePadding": 24, "labelPadding": 3, "values": [0, 10000, 20000, 30000, 40000, 50000, 60000, 70000, 80000, 90000], "format": "~s", "grid": true,
"gridColor": {"condition": {"test": "datum.value === 0", "value": "#ffffff"}, "value": "#8a8a8a"},
"gridWidth": {"condition": {"test": "datum.value === 0", "value": 2}, "value": 1}}},
"color": {"condition": {"test": "datum.c >= datum.o", "value": "#ff0000"}, "value": "#0000ff"}
}
},
{
"data": {"name": "news"},
"mark": {"type": "rule", "color": "#8CA5EB", "strokeWidth": 1},
"encoding": {
"x": {"field": "t", "type": "temporal", "axis": null},
"y": {"datum": 20100, "type": "quantitative", "scale": {"domain": [19942, 22842], "nice": false, "zero": false}, "axis": null},
"y2": {"datum": 22842}
}
},
{
"mark": {"type": "rule", "strokeWidth": 1},
"encoding": {
"x": {"field": "t", "type": "temporal", "axis": null},
"y": {"field": "l", "type": "quantitative",
"scale": {"domain": [19942, 22842], "nice": false, "zero": false},
"axis": {"orient": "left", "title": "Price", "titlePadding": 20, "labelPadding": 2, "values": [20000, 20500, 21000, 21500, 22000, 22500], "format": "~s", "grid": true, "gridColor": "#ffffff", "gridWidth": 1}},
"y2": {"field": "h"},
"color": {"condition": {"test": "datum.c >= datum.o", "value": "#ff0000"}, "value": "#0000ff"}
}
},
{
"mark": {"type": "bar", "size": 1, "strokeWidth": 1},
"encoding": {
"x": {"field": "t", "type": "temporal", "axis": null},
"y": {"field": "o", "type": "quantitative", "scale": {"domain": [19942, 22842], "nice": false, "zero": false}, "axis": null},
"y2": {"field": "c"},
"fill": {"condition": {"test": "datum.c >= datum.o", "value": "#ff0000"}, "value": "#0000ff"},
"stroke": {"condition": {"test": "datum.c >= datum.o", "value": "#ff0000"}, "value": "#0000ff"}
}
},
{
"data": {"name": "news"},
"mark": {"type": "text", "baseline": "middle", "align": "center", "font": "DejaVu Sans", "fontSize": 12, "color": "#444444"},
"encoding": {
"x": {"field": "t", "type": "temporal", "axis": null},
"y": {"datum": 22842, "type": "quantitative", "scale": {"domain": [19942, 22842], "nice": false, "zero": false}, "axis": null},
"text": {"field": "n"}
}
},
{
"data": {"name": "hours"},
"mark": {"type": "text", "baseline": "middle", "align": "center", "font": "DejaVu Sans", "fontSize": 12, "color": "#2a3f5f", "dy": 11},
"encoding": {
"x": {"field": "t", "type": "temporal", "axis": null},
"y": {"datum": 19942, "type": "quantitative", "scale": {"domain": [19942, 22842], "nice": false, "zero": false}, "axis": null},
"text": {"field": "label"}
}
},
{
"data": {"name": "datelabel"},
"mark": {"type": "text", "baseline": "middle", "align": "center", "font": "DejaVu Sans", "fontSize": 12, "color": "#2a3f5f", "dy": 26},
"encoding": {
"x": {"field": "t", "type": "temporal", "axis": null},
"y": {"datum": 19942, "type": "quantitative", "scale": {"domain": [19942, 22842], "nice": false, "zero": false}, "axis": null},
"text": {"field": "label"}
}
}
],
"resolve": {"scale": {"y": "independent"}, "axis": {"y": "independent"}}
},
{
"width": 826,
"height": 120,
"data": {"name": "d"},
"layer": [
{
"mark": {"type": "bar", "size": 1.6, "opacity": 0.3},
"encoding": {
"x": {"field": "t", "type": "temporal",
"scale": {"domain": [{"year": 2022, "month": 8, "date": 5, "hours": 8, "minutes": 59, "seconds": 3}, {"year": 2022, "month": 8, "date": 5, "hours": 15, "minutes": 28, "seconds": 13}]},
"axis": null},
"y": {"field": "v", "type": "quantitative", "scale": {"domain": [-550, 96070], "nice": false, "zero": false}, "axis": null},
"color": {"condition": {"test": "datum.c >= datum.o", "value": "#ff0000"}, "value": "#0000ff"}
}
},
{
"mark": {"type": "rule", "strokeWidth": 1},
"encoding": {
"x": {"field": "t", "type": "temporal", "axis": null},
"y": {"field": "l", "type": "quantitative", "scale": {"domain": [19942, 22842], "nice": false, "zero": false}, "axis": null},
"y2": {"field": "h"},
"color": {"condition": {"test": "datum.c >= datum.o", "value": "#ff0000"}, "value": "#0000ff"}
}
},
{
"mark": {"type": "bar", "size": 1, "strokeWidth": 1},
"encoding": {
"x": {"field": "t", "type": "temporal", "axis": null},
"y": {"field": "o", "type": "quantitative", "scale": {"domain": [19942, 22842], "nice": false, "zero": false}, "axis": null},
"y2": {"field": "c"},
"fill": {"condition": {"test": "datum.c >= datum.o", "value": "#ff0000"}, "value": "#0000ff"},
"stroke": {"condition": {"test": "datum.c >= datum.o", "value": "#ff0000"}, "value": "#0000ff"}
}
},
{
"mark": {"type": "bar", "size": 4.5, "fill": "#ffffff", "stroke": "#444444", "strokeWidth": 1},
"encoding": {
"x": {"datum": {"year": 2022, "month": 8, "date": 5, "hours": 8, "minutes": 58, "seconds": 20}, "type": "temporal", "axis": null},
"y": {"datum": 22117, "type": "quantitative", "scale": {"domain": [19942, 22842], "nice": false, "zero": false}, "axis": null},
"y2": {"datum": 20642}
}
},
{
"mark": {"type": "bar", "size": 4.5, "fill": "#ffffff", "stroke": "#444444", "strokeWidth": 1},
"encoding": {
"x": {"datum": {"year": 2022, "month": 8, "date": 5, "hours": 15, "minutes": 30, "seconds": 48}, "type": "temporal", "axis": null},
"y": {"datum": 22117, "type": "quantitative", "scale": {"domain": [19942, 22842], "nice": false, "zero": false}, "axis": null},
"y2": {"datum": 20642}
}
}
],
"resolve": {"scale": {"y": "independent"}}
}
]
}
